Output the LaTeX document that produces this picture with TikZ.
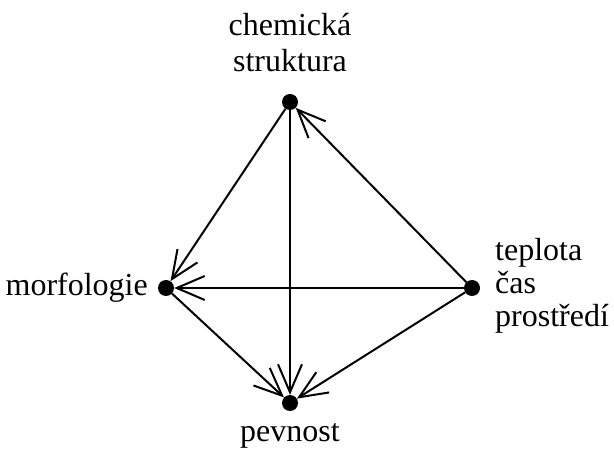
\documentclass[tikz,border=0pt]{standalone}
\usepackage{fontspec}
\setmainfont{Liberation Serif}
\usetikzlibrary{arrows.meta}
\begin{document}
\begin{tikzpicture}[x=1pt,y=-1pt,
  dot/.style={circle,fill=black,inner sep=0pt,minimum size=16pt},
  lbl/.style={font=\fontsize{32}{35}\selectfont,inner sep=0pt},
  arr/.style={line width=2pt,-{Straight Barb[length=28pt,width=24pt,line width=2pt]}}]
\useasboundingbox[fill=white] (0,0) rectangle (614,454);
\node[dot] (C) at (290,102) {};
\node[dot] (M) at (166,288) {};
\node[dot] (T) at (472,288) {};
\node[dot] (P) at (290,403) {};
\node[lbl,anchor=base] (lc1) at (290,36) {chemická};
\node[lbl,anchor=base] (lc2) at (290,72) {struktura};
\node[lbl,anchor=base east] (lm) at (148,296) {morfologie};
\node[lbl,anchor=base west] (lt1) at (495,261) {teplota};
\node[lbl,anchor=base west] (lt2) at (495,294) {čas};
\node[lbl,anchor=base west] (lt3) at (495,327) {prostředí};
\node[lbl,anchor=base] (lp) at (290,442) {pevnost};
\draw[arr] (T) -- (C);
\draw[arr] (C) -- (M);
\draw[arr] (C) -- (P);
\draw[arr] (T) -- (M);
\draw[arr] (M) -- (P);
\draw[arr] (T) -- (P);
\end{tikzpicture}
\end{document}
